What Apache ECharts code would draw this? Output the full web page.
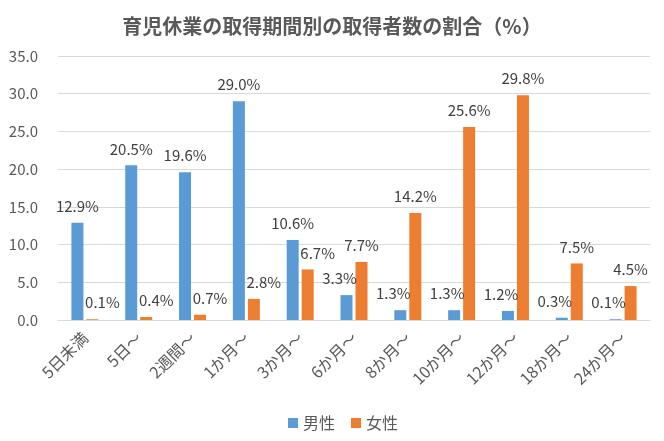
<!DOCTYPE html>
<html>
<head>
<meta charset="utf-8">
<script src="https://cdn.jsdelivr.net/npm/echarts@6/dist/echarts.min.js"></script>
<style>html,body{margin:0;padding:0;background:#fff}#c{width:664px;height:441px}</style>
</head>
<body>
<div id="c"></div>
<script>
const titleText = '育児休業の取得期間別の取得者数の割合（%）';
const categories = ['5日未満','5日～','2週間～','1か月～','3か月～','6か月～','8か月～','10か月～','12か月～','18か月～','24か月～'];
const maleName = '男性';
const femaleName = '女性';
const maleValues = [12.9, 20.5, 19.6, 29.0, 10.6, 3.3, 1.3, 1.3, 1.2, 0.3, 0.1];
const femaleValues = [0.1, 0.4, 0.7, 2.8, 6.7, 7.7, 14.2, 25.6, 29.8, 7.5, 4.5];
const yTicks = [0, 5, 10, 15, 20, 25, 30, 35];

const FONT = '"Noto Sans CJK JP", "Noto Sans", sans-serif';
// the smaller bar's label in each group is nudged away from its neighbour
const maleData = maleValues.map((v, i) => ({
  value: v,
  label: { offset: [femaleValues[i] > v ? -7 : 0, 0] }
}));
const femaleData = femaleValues.map((v, i) => ({
  value: v,
  label: { offset: [maleValues[i] > v ? 10 : 0, 0] }
}));

const labelCfg = {
  show: true,
  position: 'top',
  distance: 9,
  color: '#404040',
  fontSize: 15,
  fontFamily: FONT,
  formatter: p => p.value.toFixed(1) + '%'
};

const chart = echarts.init(document.getElementById('c'), null, { renderer: 'canvas' });
chart.setOption({
  animation: false,
  backgroundColor: '#ffffff',
  textStyle: { fontFamily: FONT },
  title: {
    text: titleText,
    left: 'center',
    top: 11,
    textStyle: { fontSize: 20, fontWeight: 'bold', color: '#595959', fontFamily: FONT }
  },
  legend: {
    bottom: 5,
    left: 283,
    itemWidth: 10,
    itemHeight: 10,
    itemGap: 16,
    icon: 'rect',
    textStyle: { fontSize: 16, color: '#595959', fontFamily: FONT },
    data: [maleName, femaleName]
  },
  grid: { left: 58, right: 14, top: 56, bottom: 121, containLabel: false },
  xAxis: {
    type: 'category',
    data: categories,
    axisLine: { show: true, lineStyle: { color: '#d9d9d9', width: 1 } },
    axisTick: { show: false },
    axisLabel: { rotate: 45, interval: 0, margin: 15, fontSize: 16, color: '#595959', fontFamily: FONT }
  },
  yAxis: {
    type: 'value',
    min: yTicks[0],
    max: yTicks[yTicks.length - 1],
    interval: yTicks[1] - yTicks[0],
    axisLine: { show: false },
    axisTick: { show: false },
    splitLine: { lineStyle: { color: '#d9d9d9', width: 1 } },
    axisLabel: { fontSize: 15, color: '#595959', margin: 20, fontFamily: FONT, formatter: v => v.toFixed(1) }
  },
  series: [
    {
      name: maleName,
      type: 'bar',
      data: maleData,
      barWidth: 12,
      barGap: '25%',
      itemStyle: { color: '#5b9bd5' },
      label: labelCfg
    },
    {
      name: femaleName,
      type: 'bar',
      data: femaleData,
      barWidth: 12,
      barGap: '25%',
      itemStyle: { color: '#ed7d31' },
      label: labelCfg
    }
  ]
});
</script>
</body>
</html>
